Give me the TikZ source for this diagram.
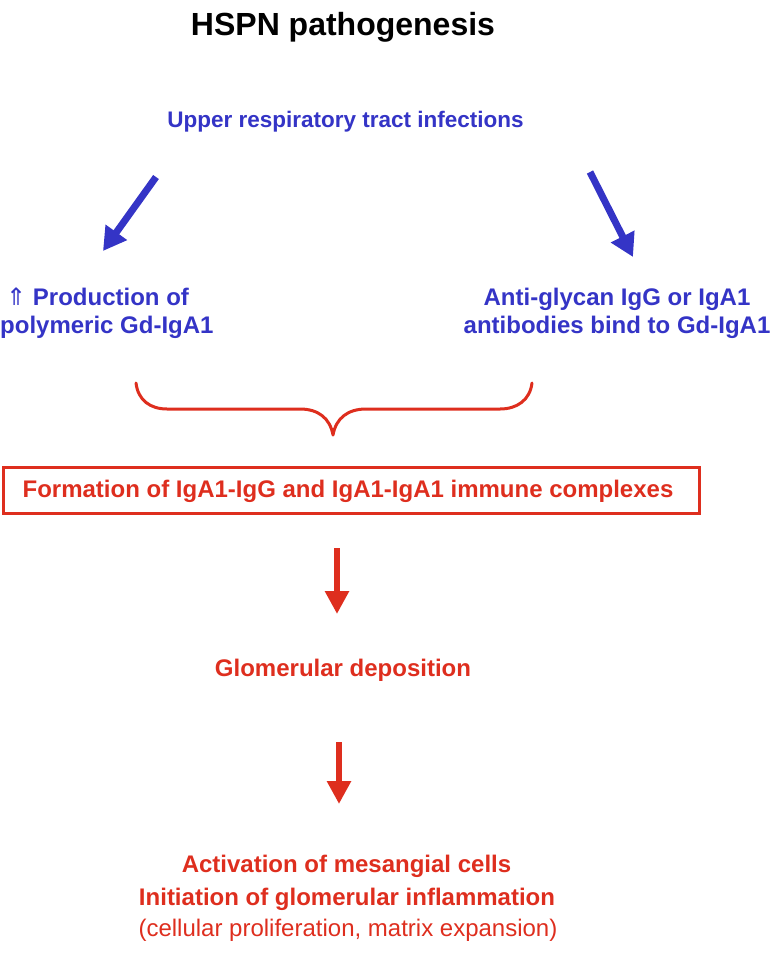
\documentclass[tikz,border=0pt]{standalone}
\usepackage{fontspec}
\setmainfont{Liberation Sans}
\newfontfamily\symfont{DejaVu Sans}
\usetikzlibrary{arrows.meta}
\definecolor{myblue}{RGB}{52,52,198}
\definecolor{myred}{RGB}{222,46,30}
\begin{document}
\begin{tikzpicture}[x=1pt,y=-1pt,
  lbl/.style={inner sep=0pt, anchor=base, font=\fontsize{24}{28}\selectfont\bfseries},
  bluetext/.style={lbl, text=myblue},
  redtext/.style={lbl, text=myred},
  bluearrow/.style={draw=myblue, line width=7pt, -{Triangle[length=23pt,width=25pt]}},
  redarrow/.style={draw=myred, line width=6.5pt, -{Triangle[length=23pt,width=23pt]}},
  bracestyle/.style={draw=myred, line width=3pt, line cap=round, line join=round},
  boxstyle/.style={draw=myred, line width=3pt, inner sep=0pt, minimum width=696pt, minimum height=46pt}]
\useasboundingbox (0,0) rectangle (776,954);

\node[lbl, font=\fontsize{32}{36}\selectfont\bfseries] (title) at (343,35) {HSPN pathogenesis};
\node[bluetext, font=\fontsize{22.5}{26}\selectfont\bfseries] (uri) at (345.5,127) {Upper respiratory tract infections};

\node[bluetext, anchor=base west] (prod1) at (6,305) {{\symfont\mdseries ⇑} Production of};
\node[bluetext, anchor=base west] (prod2) at (0,333) {polymeric Gd-IgA1};
\node[bluetext] (anti1) at (617,305) {Anti-glycan IgG or IgA1};
\node[bluetext] (anti2) at (617,333) {antibodies bind to Gd-IgA1};

\coordinate (la1) at (156,177);
\coordinate (la2) at (103,251);
\coordinate (ra1) at (590,172);
\coordinate (ra2) at (633,257);
\draw[bluearrow] (la1) -- (la2);
\draw[bluearrow] (ra1) -- (ra2);

\coordinate (brL) at (136,383);
\coordinate (brT) at (333,435);
\coordinate (brR) at (532,383);
\draw[bracestyle] (brL) .. controls (138,400) and (150,409) .. (167,409) -- (300,409)
  .. controls (318,409) and (330,418) .. (brT)
  .. controls (336,418) and (348,409) .. (366,409) -- (500,409)
  .. controls (517,409) and (530,400) .. (brR);

\node[boxstyle] (box) at (351,490) {};
\node[redtext] (form) at (348,497) {Formation of IgA1-IgG and IgA1-IgA1 immune complexes};

\coordinate (r1a) at (337,548);
\coordinate (r1b) at (337,614);
\draw[redarrow] (r1a) -- (r1b);

\node[redtext] (glom) at (343,676) {Glomerular deposition};

\coordinate (r2a) at (339,742);
\coordinate (r2b) at (339,804);
\draw[redarrow] (r2a) -- (r2b);

\node[redtext] (act) at (346.5,872) {Activation of mesangial cells};
\node[redtext] (init) at (347,905) {Initiation of glomerular inflammation};
\node[redtext, font=\fontsize{24}{28}\selectfont] (cell) at (348,936) {(cellular proliferation, matrix expansion)};
\end{tikzpicture}
\end{document}
